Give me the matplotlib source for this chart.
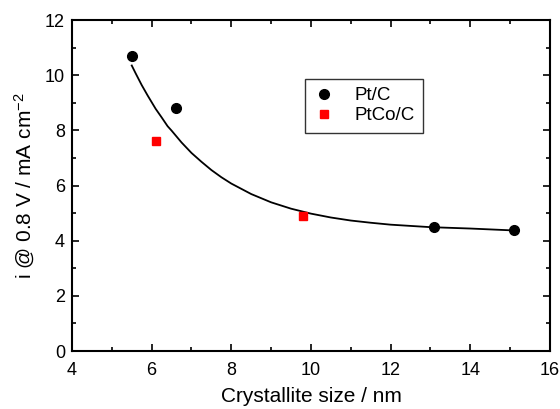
import matplotlib
matplotlib.use("Agg")
import matplotlib.pyplot as plt
from matplotlib.ticker import MultipleLocator

plt.rcParams['font.family'] = ['Liberation Sans', 'DejaVu Sans']
plt.rcParams['mathtext.fontset'] = 'custom'
plt.rcParams['mathtext.rm'] = 'Liberation Sans'
plt.rcParams['mathtext.it'] = 'Liberation Sans:italic'

# measured points
pt_x = [5.5, 6.6, 13.1, 15.1]
pt_y = [10.7, 8.8, 4.5, 4.4]
ptco_x = [6.1, 9.8]
ptco_y = [7.6, 4.9]

# fitted curve
fit_x = [5.5, 5.6, 5.75, 5.9, 6.0, 6.1, 6.25, 6.4, 6.5, 6.75, 7.0, 7.25, 7.5, 7.75,
         8.0, 8.5, 9.0, 9.5, 10.0, 10.5, 11.0, 11.5, 12.0, 13.0, 14.0, 15.1]
fit_y = [10.35, 10.06, 9.64, 9.26, 9.02, 8.78, 8.47, 8.15, 7.99, 7.56, 7.18, 6.86,
         6.56, 6.30, 6.07, 5.69, 5.39, 5.16, 4.98, 4.84, 4.73, 4.65, 4.58, 4.49,
         4.44, 4.37]

fig = plt.figure(figsize=(5.6, 4.09), dpi=100)
ax = fig.add_axes([0.1286, 0.1418, 0.8534, 0.8093])

ax.plot(fit_x, fit_y, color='black', linewidth=1.3, zorder=2)
ax.plot(pt_x, pt_y, 'o', color='black', markersize=7, label='Pt/C', zorder=3)
ax.plot(ptco_x, ptco_y, 's', color='#ff0000', markersize=6, label='PtCo/C', zorder=3)

ax.set_xlim(4, 16)
ax.set_ylim(0, 12)
ax.xaxis.set_major_locator(MultipleLocator(2))
ax.xaxis.set_minor_locator(MultipleLocator(1))
ax.yaxis.set_major_locator(MultipleLocator(2))
ax.yaxis.set_minor_locator(MultipleLocator(1))
ax.tick_params(which='both', direction='in', top=True, right=True, labelsize=13, width=1.2)
ax.tick_params(which='major', length=5, pad=5)
ax.tick_params(axis='x', which='major', pad=8)
ax.tick_params(which='minor', length=3)
for s in ax.spines.values():
    s.set_linewidth(1.5)

ax.set_xlabel('Crystallite size / nm', fontsize=15, labelpad=6)
ax.set_ylabel('i @ 0.8 V / mA cm$^{-2}$', fontsize=15, labelpad=6)

leg = ax.legend(loc='upper left', bbox_to_anchor=(0.487, 0.822), fontsize=13.5,
                frameon=True, fancybox=False, edgecolor='black', handlelength=1.2,
                handletextpad=1.0, borderpad=0.45, labelspacing=0.15, borderaxespad=0)
leg.get_frame().set_linewidth(1.0)

fig.savefig('out.png', dpi=100)
